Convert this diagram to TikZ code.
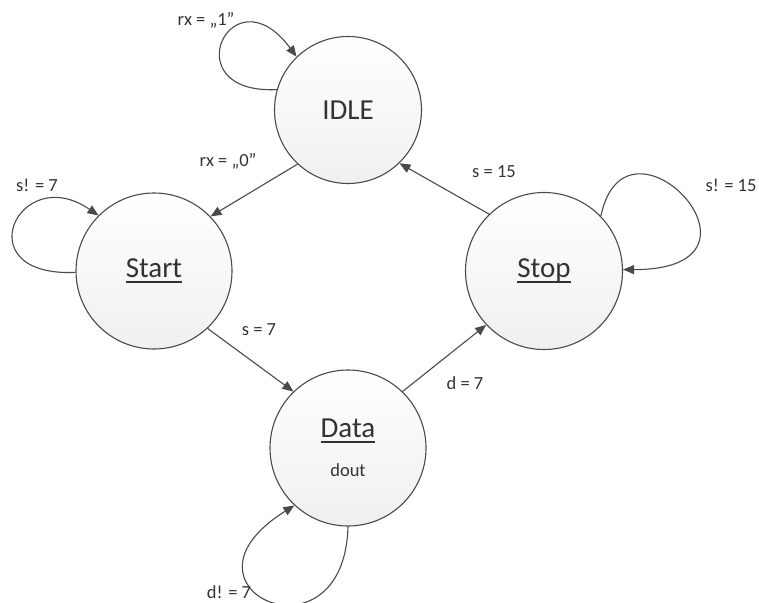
\documentclass[tikz,border=0pt]{standalone}
\usepackage{fontspec}
\setmainfont{Carlito}
\usetikzlibrary{arrows.meta}
\definecolor{edgecol}{HTML}{4A4A4A}
\definecolor{txtcol}{HTML}{333333}
\newcommand{\ulx}[1]{{\setbox0\hbox{#1}\rlap{\vrule height -3.4pt depth 5pt width \wd0}\box0}}
\tikzset{
  statenode/.style={circle, draw=edgecol, line width=1.1pt, top color=white, bottom color=black!6,
    inner sep=0pt, text=txtcol, font=\fontsize{29}{32}\selectfont, align=center},
  trans/.style={draw=edgecol, line width=1.1pt, -{Triangle[length=11pt,width=9pt]}},
  lbl/.style={text=txtcol, font=\fontsize{18.5}{20}\selectfont, inner sep=0pt}
}
\begin{document}
\begin{tikzpicture}[x=1pt,y=-1pt]
\useasboundingbox (0,0) rectangle (759,602);
\node[statenode, minimum size=147pt] (idle) at (348,110) {IDLE};
\node[statenode, minimum size=156pt] (start) at (154,271) {\ulx{Start}};
\node[statenode, minimum size=156pt] (data) at (348,448) {\ulx{Data}\\[7pt]{\fontsize{18.5}{20}\selectfont dout}};
\node[statenode, minimum size=157pt] (stop) at (544,271) {\ulx{Stop}};

% transitions
\draw[trans] (idle.227) -- (start.44);
\draw[trans] (start.313) -- (data.134);
\draw[trans] (data.46) -- (stop.223);
\draw[trans] (stop.134) -- (idle.314);

% self loops
\draw[trans] (idle.164) .. controls +(-105,5) and +(-65,-88) .. (idle.134);
\draw[trans] (start.181) .. controls +(-111,5) and +(-80,-55) .. (start.135);
\draw[trans] (stop.44) .. controls +(25,-120) and +(167,0) .. (stop.1);
\draw[trans] (data.270) .. controls +(-4,143) and +(-133,83) .. (data.227);

% labels
\node[lbl] (l1) at (206,20) {rx = „1”};
\node[lbl] (l0) at (228,161) {rx = „0”};
\node[lbl] (ls7) at (37,185) {s! = 7};
\node[lbl] (s7) at (259,330) {s = 7};
\node[lbl] (d7) at (465,383) {d = 7};
\node[lbl] (s15) at (494,172) {s = 15};
\node[lbl] (ls15) at (731,185) {s! = 15};
\node[lbl] (ld7) at (229,592) {d! = 7};
\end{tikzpicture}
\end{document}
